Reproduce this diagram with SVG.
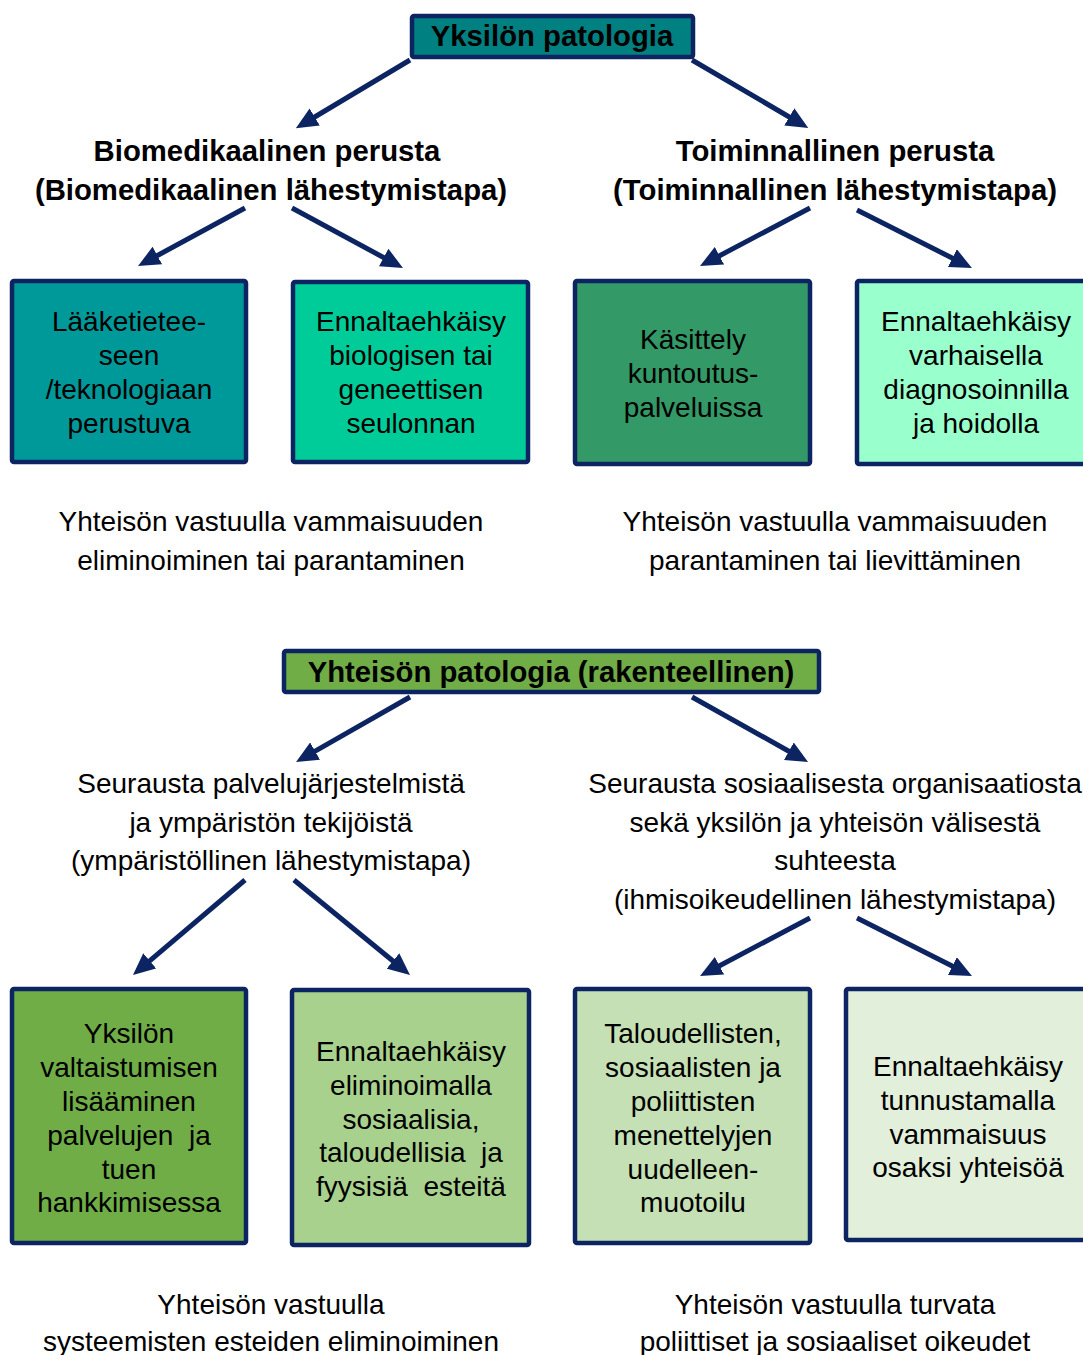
<svg xmlns="http://www.w3.org/2000/svg" width="1083" height="1355" viewBox="0 0 1083 1355">
  <style>
    text { font-family: "Liberation Sans", Arial, sans-serif; font-size: 28px; fill: #000; text-anchor: middle; }
    .b { font-weight: bold; font-size: 29.3px; }
    .pre { white-space: pre; }
    .box { stroke: #0c2461; stroke-width: 4.5; }
    .arrow { stroke: #0c2461; stroke-width: 5; fill: none; marker-end: url(#head); }
  </style>
  <defs>
    <marker id="head" markerUnits="userSpaceOnUse" viewBox="0 0 22 20" markerWidth="22" markerHeight="20" refX="2" refY="10" orient="auto">
      <path d="M0,0 L22,10 L0,20 z" fill="#0c2461"/>
    </marker>
  </defs>
  <rect width="1083" height="1355" fill="#fff"/>

  <!-- connectors -->
  <g id="connectors">
    <line class="arrow" x1="410" y1="60" x2="313" y2="118"/>
    <line class="arrow" x1="692" y1="60" x2="791" y2="118"/>
    <line class="arrow" x1="245" y1="208" x2="155.6" y2="256.5"/>
    <line class="arrow" x1="292" y1="208" x2="385.4" y2="258.5"/>
    <line class="arrow" x1="810" y1="208" x2="717.7" y2="256.7"/>
    <line class="arrow" x1="857" y1="210" x2="954.1" y2="259"/>
    <line class="arrow" x1="410" y1="697" x2="313.4" y2="752.1"/>
    <line class="arrow" x1="692" y1="697" x2="790.6" y2="752.2"/>
    <line class="arrow" x1="245" y1="880" x2="148.2" y2="962.1"/>
    <line class="arrow" x1="294" y1="880" x2="394.5" y2="962.3"/>
    <line class="arrow" x1="810" y1="918" x2="717.7" y2="966.7"/>
    <line class="arrow" x1="857" y1="918" x2="954.1" y2="967"/>
  </g>

  <!-- individual pathology -->
  <g id="yksilon-patologia">
    <rect class="box" x="412" y="16" width="281" height="41" rx="2" fill="#008080"/>
    <text class="b" x="552" y="46">Yksilön patologia</text>
  </g>

  <g id="biomedikaalinen">
    <text class="b" x="267" y="161">Biomedikaalinen perusta</text>
    <text class="b" x="271" y="200">(Biomedikaalinen lähestymistapa)</text>
  </g>

  <g id="toiminnallinen">
    <text class="b" x="835" y="161">Toiminnallinen perusta</text>
    <text class="b" x="835" y="200">(Toiminnallinen lähestymistapa)</text>
  </g>

  <g id="laaketieteeseen">
    <rect class="box" x="12" y="281" width="234" height="181" rx="2" fill="#009999" stroke="#203864"/>
    <text x="129" y="331">Lääketietee-</text>
    <text x="129" y="365">seen</text>
    <text x="129" y="399">/teknologiaan</text>
    <text x="129" y="433">perustuva</text>
  </g>

  <g id="ennaltaehkaisy-seulonta">
    <rect class="box" x="293" y="282" width="235" height="180" rx="2" fill="#00cc99"/>
    <text x="411" y="331">Ennaltaehkäisy</text>
    <text x="411" y="365">biologisen tai</text>
    <text x="411" y="399">geneettisen</text>
    <text x="411" y="433">seulonnan</text>
  </g>

  <g id="kasittely">
    <rect class="box" x="575" y="281" width="235" height="183" rx="2" fill="#339966"/>
    <text x="693" y="349">Käsittely</text>
    <text x="693" y="383">kuntoutus-</text>
    <text x="693" y="417">palveluissa</text>
  </g>

  <g id="ennaltaehkaisy-diagnosointi">
    <rect class="box" x="857" y="281" width="240" height="183" rx="2" fill="#99ffcc"/>
    <text x="976" y="331">Ennaltaehkäisy</text>
    <text x="976" y="365">varhaisella</text>
    <text x="976" y="399">diagnosoinnilla</text>
    <text x="976" y="433">ja hoidolla</text>
  </g>

  <g id="vastuu-eliminointi">
    <text x="271" y="531">Yhteisön vastuulla vammaisuuden</text>
    <text x="271" y="570">eliminoiminen tai parantaminen</text>
  </g>

  <g id="vastuu-lievittaminen">
    <text x="835" y="531">Yhteisön vastuulla vammaisuuden</text>
    <text x="835" y="570">parantaminen tai lievittäminen</text>
  </g>

  <!-- community pathology -->
  <g id="yhteison-patologia">
    <rect class="box" x="284" y="651" width="535" height="41" rx="2" fill="#70ad47"/>
    <text class="b" x="551" y="682">Yhteisön patologia (rakenteellinen)</text>
  </g>

  <g id="ymparistollinen">
    <text x="271" y="793">Seurausta palvelujärjestelmistä</text>
    <text x="271" y="832">ja ympäristön tekijöistä</text>
    <text x="271" y="870">(ympäristöllinen lähestymistapa)</text>
  </g>

  <g id="ihmisoikeudellinen">
    <text x="835" y="793">Seurausta sosiaalisesta organisaatiosta</text>
    <text x="835" y="832">sekä yksilön ja yhteisön välisestä</text>
    <text x="835" y="870">suhteesta</text>
    <text x="835" y="909">(ihmisoikeudellinen lähestymistapa)</text>
  </g>

  <g id="valtaistuminen">
    <rect class="box" x="12" y="989" width="234" height="254" rx="2" fill="#70ad47"/>
    <text x="129" y="1043">Yksilön</text>
    <text x="129" y="1077">valtaistumisen</text>
    <text x="129" y="1111">lisääminen</text>
    <text class="pre" x="129" y="1145">palvelujen  ja</text>
    <text x="129" y="1179">tuen</text>
    <text x="129" y="1212">hankkimisessa</text>
  </g>

  <g id="ennaltaehkaisy-esteet">
    <rect class="box" x="292" y="990" width="237" height="255" rx="2" fill="#a9d18e"/>
    <text x="411" y="1061">Ennaltaehkäisy</text>
    <text x="411" y="1095">eliminoimalla</text>
    <text x="411" y="1129">sosiaalisia,</text>
    <text class="pre" x="411" y="1162">taloudellisia  ja</text>
    <text class="pre" x="411" y="1196">fyysisiä  esteitä</text>
  </g>

  <g id="menettelyt">
    <rect class="box" x="575" y="989" width="235" height="254" rx="2" fill="#c5e0b4"/>
    <text x="693" y="1043">Taloudellisten,</text>
    <text x="693" y="1077">sosiaalisten ja</text>
    <text x="693" y="1111">poliittisten</text>
    <text x="693" y="1145">menettelyjen</text>
    <text x="693" y="1179">uudelleen-</text>
    <text x="693" y="1212">muotoilu</text>
  </g>

  <g id="ennaltaehkaisy-tunnustaminen">
    <rect class="box" x="846" y="989" width="250" height="251" rx="2" fill="#e2efda"/>
    <text x="968" y="1076">Ennaltaehkäisy</text>
    <text x="968" y="1110">tunnustamalla</text>
    <text x="968" y="1144">vammaisuus</text>
    <text x="968" y="1177">osaksi yhteisöä</text>
  </g>

  <g id="vastuu-esteet">
    <text x="271" y="1314">Yhteisön vastuulla</text>
    <text x="271" y="1351">systeemisten esteiden eliminoiminen</text>
  </g>

  <g id="vastuu-oikeudet">
    <text x="835" y="1314">Yhteisön vastuulla turvata</text>
    <text x="835" y="1351">poliittiset ja sosiaaliset oikeudet</text>
  </g>
</svg>
